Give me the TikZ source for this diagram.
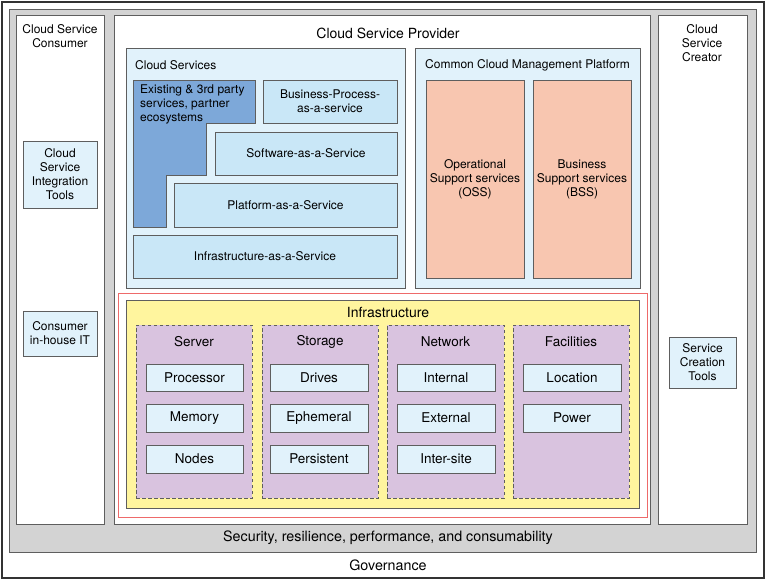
\documentclass[tikz,border=0pt]{standalone}
\usepackage{fontspec}
\setmainfont{TeX Gyre Heros}
\definecolor{gfill}{HTML}{D3D3D3}
\definecolor{lblue}{HTML}{E1F2FB}
\definecolor{mblue}{HTML}{C9E7F7}
\definecolor{dblue}{HTML}{7DA8D9}
\definecolor{salmon}{HTML}{F8C6B0}
\definecolor{yel}{HTML}{FFF59E}
\definecolor{purp}{HTML}{D9C3DF}
\definecolor{redl}{HTML}{EE6A6A}
\definecolor{edge}{HTML}{5E5E5E}
\newcommand\mybox[7]{\node[#2, minimum width={#5-#3}, minimum height={#6-#4}] (#1) at ({(#3+#5)/2},{(#4+#6)/2}) {#7};}
\begin{document}
\begin{tikzpicture}[x=1pt,y=-1pt,
  base/.style={draw=edge, line width=0.8pt, inner sep=0pt, outer sep=0pt, align=center, font=\fontsize{12}{14}\selectfont},
  frame/.style={base, fill=white},
  lbox/.style={base, fill=lblue},
  mbox/.style={base, fill=mblue},
  sbox/.style={base, fill=salmon},
  ibox/.style={base, fill=lblue, font=\fontsize{13.5}{15}\selectfont},
  grp/.style={base, fill=purp, dashed, dash pattern=on 3.5pt off 2.5pt},
  lbl/.style={inner sep=0pt, align=center, font=\fontsize{12}{14}\selectfont},
  biglbl/.style={inner sep=0pt, align=center, font=\fontsize{14}{16}\selectfont},
  midlbl/.style={inner sep=0pt, align=center, font=\fontsize{13.5}{15}\selectfont},
  botlbl/.style={inner sep=0pt, align=center, font=\fontsize{14.3}{16}\selectfont}]
\useasboundingbox (0,0) rectangle (767,582);
% outer frames
\mybox{outer}{base, draw=black!80, line width=1.2pt, fill=white}{2}{2}{764}{578}{}
\mybox{gray}{base, fill=gfill}{9}{9}{756}{552}{}
\mybox{consumer}{frame}{16}{15}{104}{524}{}
\mybox{provider}{frame}{114}{15}{650}{524}{}
\mybox{creator}{frame}{658}{15}{747}{524}{}
\node[lbl] (consumerT) at (60,36) {Cloud Service\\Consumer};
\node[biglbl] (providerT) at (388,33) {Cloud Service Provider};
\node[lbl] (creatorT) at (702,43) {Cloud\\Service\\Creator};
\mybox{integ}{lbox}{23}{141}{97}{208}{Cloud\\Service\\Integration\\Tools}
\mybox{inhouse}{lbox}{23}{311}{97}{356}{Consumer\\in-house IT}
\mybox{sct}{lbox}{669}{337}{736}{388}{Service\\Creation\\Tools}
% cloud services
\mybox{cs}{base, fill=lblue}{126}{48}{405}{288}{}
\node[lbl, anchor=west] (csT) at (135,65) {Cloud Services};
\draw[draw=edge, line width=0.8pt, fill=dblue] (133,80) -- (255,80) -- (255,123) -- (206,123) -- (206,175) -- (166,175) -- (166,227) -- (133,227) -- cycle;
\node[lbl, anchor=north west, align=left] (existing) at (140,84.5) {Existing \& 3rd party\\services, partner\\ecosystems};
\mybox{bp}{mbox}{263}{80}{397}{123}{Business-Process-\\as-a-service}
\mybox{saas}{mbox}{215}{132}{397}{175}{Software-as-a-Service}
\mybox{paas}{mbox}{174}{183}{397}{227}{Platform-as-a-Service}
\mybox{iaas}{mbox}{133}{235}{397}{278}{Infrastructure-as-a-Service}
% management platform
\mybox{ccmp}{base, fill=lblue}{415}{48}{640}{288}{}
\node[lbl] (ccmpT) at (527.5,65) {Common Cloud Management Platform};
\mybox{oss}{sbox}{426}{80}{524}{278}{Operational\\Support services\\(OSS)}
\mybox{bss}{sbox}{533}{80}{631}{278}{Business\\Support services\\(BSS)}
% infrastructure
\mybox{red}{base, draw=redl, fill=white}{118}{293}{647}{517}{}
\mybox{yellow}{base, fill=yel}{126}{300}{639}{508}{}
\node[biglbl] (infT) at (388,312) {Infrastructure};
\mybox{server}{grp}{136}{325}{252}{498}{}
\mybox{storage}{grp}{262}{325}{378}{498}{}
\mybox{network}{grp}{387}{325}{504}{498}{}
\mybox{facil}{grp}{513}{325}{629}{498}{}
\node[midlbl] (serverT) at (194,342) {Server};
\node[midlbl] (storageT) at (320,342) {Storage};
\node[midlbl] (networkT) at (445.5,342) {Network};
\node[midlbl] (facilT) at (571,342) {Facilities};
\mybox{proc}{ibox}{146}{364}{243}{391}{Processor}
\mybox{mem}{ibox}{146}{404}{243}{432}{Memory}
\mybox{nodes}{ibox}{146}{445}{243}{473}{Nodes}
\mybox{drives}{ibox}{270}{364}{368}{391}{Drives}
\mybox{ephem}{ibox}{270}{404}{368}{432}{Ephemeral}
\mybox{persist}{ibox}{270}{445}{368}{473}{Persistent}
\mybox{internal}{ibox}{397}{364}{495}{391}{Internal}
\mybox{external}{ibox}{397}{404}{495}{432}{External}
\mybox{intersite}{ibox}{397}{445}{495}{473}{Inter-site}
\mybox{location}{ibox}{523}{364}{621}{391}{Location}
\mybox{power}{ibox}{523}{404}{621}{432}{Power}
% bottom bars
\node[botlbl] (security) at (388,538) {Security, resilience, performance, and consumability};
\node[botlbl] (gov) at (388,565) {Governance};
\end{tikzpicture}
\end{document}
